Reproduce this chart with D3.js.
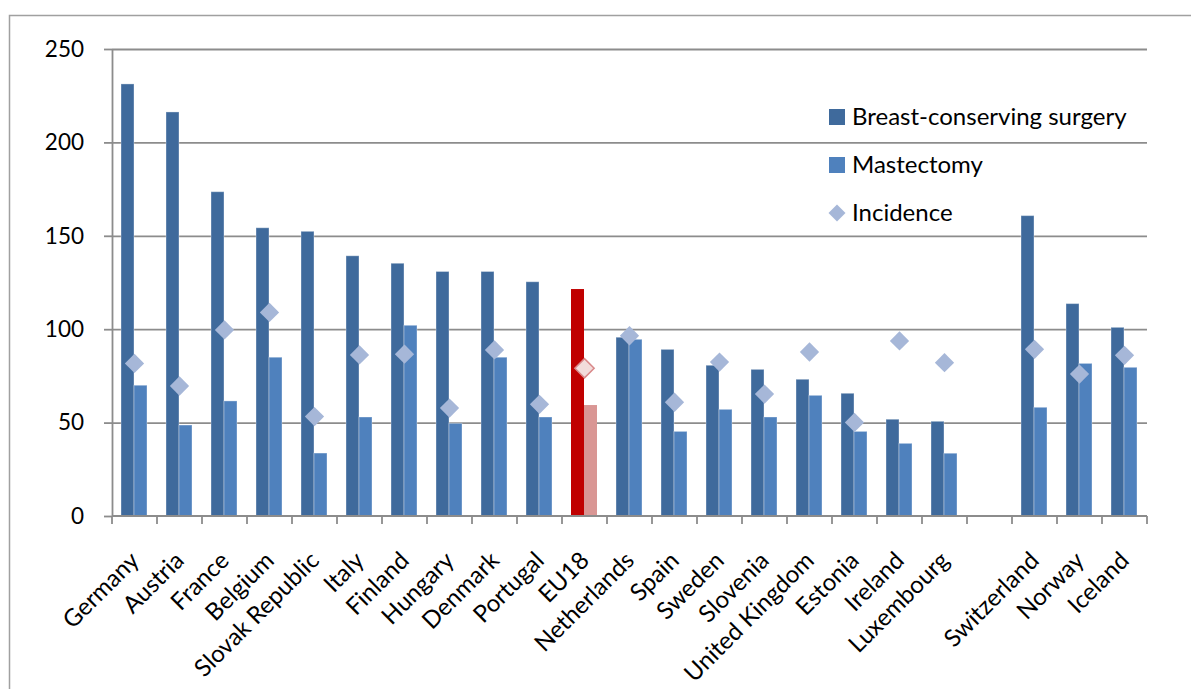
<!DOCTYPE html>
<html>
<head>
<meta charset="utf-8">
<script src="https://cdn.jsdelivr.net/npm/d3@7"></script>
<style>
  html, body { margin: 0; padding: 0; background: #fff; }
  svg { display: block; }
  text { font-family: Lato, "Open Sans", sans-serif; fill: #000; }
</style>
</head>
<body>
<svg id="chart" width="1191" height="689"></svg>
<script>
// Countries in display order; the empty entry leaves a gap before the non-EU group
const categories = ["Germany", "Austria", "France", "Belgium", "Slovak Republic", "Italy",
  "Finland", "Hungary", "Denmark", "Portugal", "EU18", "Netherlands", "Spain", "Sweden",
  "Slovenia", "United Kingdom", "Estonia", "Ireland", "Luxembourg", "", "Switzerland",
  "Norway", "Iceland"];

// Procedures and incidence per 100 000 women
const breastConserving = [231.3, 216.3, 173.6, 154.3, 152.4, 139.3, 135.3, 130.9, 130.9, 125.4,
  121.5, 95.7, 89.2, 80.7, 78.5, 73.2, 65.7, 51.8, 50.7, null, 160.8, 113.7, 101.0];
const mastectomy = [70.0, 48.7, 61.6, 85.0, 33.7, 53.0, 102.1, 49.6, 85.0, 53.0,
  59.4, 94.6, 45.3, 57.1, 53.0, 64.6, 45.3, 38.9, 33.6, null, 58.2, 81.7, 79.6];
const incidence = [81.7, 69.6, 99.6, 109.0, 53.2, 86.2, 86.6, 57.8, 88.9, 59.8,
  79.1, 96.5, 60.9, 82.4, 65.3, 87.8, 50.1, 93.7, 82.1, null, 89.2, 76.0, 86.0];

const yTicks = [0, 50, 100, 150, 200, 250];
const seriesNames = ["Breast-conserving surgery", "Mastectomy", "Incidence"];
const highlight = "EU18";

const colors = {
  bcs: "#3F6A9C", mast: "#4F81BD", inc: "#A6B7D8",
  bcsHi: "#C00000", mastHi: "#D99694", incHi: "#F2DCDB", incHiStroke: "#D9898A"
};

const svg = d3.select("#chart");
const plotLeft = 112, plotRight = 1147, plotTop = 49, plotBottom = 516;

const x = d3.scaleBand().domain(categories.map((c, i) => i)).range([plotLeft, plotRight]).padding(0);
const inner = d3.scaleBand().domain(["bcs", "mast"]).range([-13.5, 12.5]).padding(0);
const y = d3.scaleLinear().domain([0, 250]).range([plotBottom, plotTop]);

// Outer frame
svg.append("path")
  .attr("d", `M9.5,689 V15.5 H1191`)
  .attr("fill", "none").attr("stroke", "#a0a0a0").attr("stroke-width", 1.5);

// Horizontal gridlines
const grid = svg.append("g").attr("transform", `translate(${plotLeft},0)`)
  .call(d3.axisLeft(y).tickValues(yTicks.filter(v => v > 0)).tickSize(-(plotRight - plotLeft)).tickFormat(""));
grid.select(".domain").remove();
grid.selectAll("line").attr("stroke", "#8c8c8c").attr("stroke-width", 1.8);

// Y axis
const yAxis = svg.append("g").attr("transform", `translate(${plotLeft},0)`)
  .call(d3.axisLeft(y).tickValues(yTicks).tickSize(8).tickPadding(20).tickSizeOuter(0));
yAxis.select(".domain").attr("stroke", "#8c8c8c").attr("stroke-width", 1.8);
yAxis.selectAll("line").attr("stroke", "#8c8c8c").attr("stroke-width", 1.8);
yAxis.selectAll("text").style("font-size", "22.5px").attr("fill", "#000");

const rows = categories.map((c, i) => ({
  i, name: c, bcs: breastConserving[i], mast: mastectomy[i], inc: incidence[i]
}));
const cx = i => x(i) + x.bandwidth() / 2;

// Bars
const bars = svg.append("g");
["bcs", "mast"].forEach(key => {
  bars.selectAll(`rect.${key}`)
    .data(rows.filter(d => d[key] != null))
    .join("rect")
    .attr("class", key)
    .attr("x", d => cx(d.i) + inner(key))
    .attr("width", inner.bandwidth())
    .attr("y", d => y(d[key]))
    .attr("height", d => y(0) - y(d[key]))
    .attr("fill", d => d.name === highlight ? colors[key + "Hi"] : colors[key])
    .attr("stroke", d => d.name === highlight ? "none" : "rgba(255,255,255,0.35)")
    .attr("stroke-width", 1);
});

// X axis line and category boundary ticks
svg.append("line")
  .attr("x1", plotLeft).attr("x2", plotRight).attr("y1", y(0)).attr("y2", y(0))
  .attr("stroke", "#8c8c8c").attr("stroke-width", 1.8);
const bounds = categories.map((c, i) => x(i)).concat([plotRight]);
svg.append("g").selectAll("line").data(bounds).join("line")
  .attr("x1", d => d).attr("x2", d => d)
  .attr("y1", y(0)).attr("y2", y(0) + 8)
  .attr("stroke", "#8c8c8c").attr("stroke-width", 1.8);

// Incidence markers
const diamond = d3.symbol().type(d3.symbolSquare).size(186);
svg.append("g").selectAll("path")
  .data(rows.filter(d => d.inc != null))
  .join("path")
  .attr("d", diamond)
  .attr("transform", d => `translate(${cx(d.i)},${y(d.inc)}) rotate(45)`)
  .attr("fill", d => d.name === highlight ? colors.incHi : colors.inc)
  .attr("stroke", d => d.name === highlight ? colors.incHiStroke : "none")
  .attr("stroke-width", 1.5);

// Category labels, rotated
svg.append("g").selectAll("text")
  .data(rows.filter(d => d.name !== ""))
  .join("text")
  .attr("transform", d => `translate(${cx(d.i) + 6},${y(0) + 46}) rotate(-45)`)
  .attr("text-anchor", "end")
  .style("font-size", "24px")
  .text(d => d.name);

// Legend
const legend = svg.append("g").attr("transform", "translate(837,117)");
const legendRows = [
  { label: seriesNames[0], type: "rect", color: colors.bcs },
  { label: seriesNames[1], type: "rect", color: colors.mast },
  { label: seriesNames[2], type: "diamond", color: colors.inc }
];
legendRows.forEach((r, k) => {
  const g = legend.append("g").attr("transform", `translate(0,${k * 48})`);
  if (r.type === "rect") {
    g.append("rect").attr("x", -8).attr("y", -8).attr("width", 16).attr("height", 16).attr("fill", r.color);
  } else {
    g.append("path").attr("d", d3.symbol().type(d3.symbolSquare).size(144)).attr("transform", "rotate(45)").attr("fill", r.color);
  }
  g.append("text").attr("x", 15).attr("y", 0).attr("dy", "0.35em").style("font-size", "24px").text(r.label);
});
</script>
</body>
</html>
